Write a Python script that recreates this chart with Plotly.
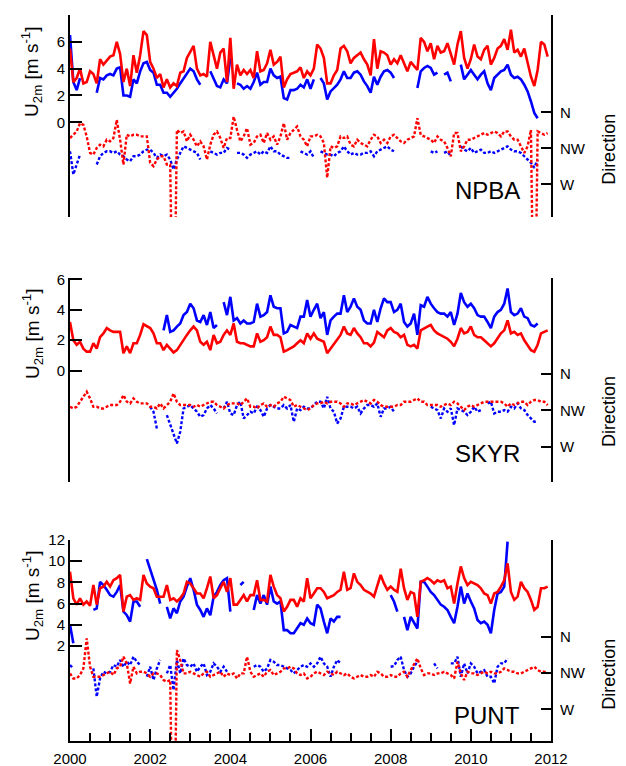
import plotly.graph_objects as go

N = None
# ---------------- data (monthly, Jan 2000 .. Dec 2011) ----------------
years = [2000 + m / 12 for m in range(144)]

npba_red_spd = [5.5,3.0,3.3,4.0,2.9,3.0,3.8,3.6,2.9,4.7, 4.3,4.6,4.9,5.0,6.0,5.1,3.0,4.0,2.7,5.0,
 3.7,5.0,6.8,6.5,4.5,4.0,3.3,3.6,2.6,3.2, 2.6,2.9,2.7,3.7,3.8,4.8,5.3,5.7,4.0,3.5,
 3.6,3.4,6.0,5.0,4.0,5.2,5.5,3.0,6.3,2.5, 4.3,3.5,3.9,3.6,3.9,3.3,5.3,3.8,3.9,4.4,
 5.4,4.3,4.5,4.9,2.6,3.2,3.6,3.7,3.8,4.1, 3.3,3.8,3.5,4.0,5.8,5.5,4.8,2.9,2.9,3.5,
 3.9,5.5,5.7,5.3,4.4,4.8,5.0,5.2,4.7,4.3, 3.5,6.2,4.0,5.3,5.2,5.0,4.3,4.7,4.4,5.0,
 4.4,3.8,4.5,4.2,3.9,6.3,6.0,5.3,5.9,4.7, 5.7,5.2,5.3,5.9,5.0,4.3,5.8,6.8,4.8,4.0,
 4.7,5.8,4.9,4.7,5.4,5.7,4.3,4.8,5.5,5.7, 6.2,5.4,6.9,5.2,5.4,4.9,5.5,4.4,3.4,2.7,
 3.9,6.0,5.8,4.9]
npba_blue_spd = [6.5,3.0,2.4,3.3,N,N,N,N,2.2,3.3, 3.2,3.5,3.6,3.5,4.0,4.1,2.0,2.0,1.9,3.2,
 2.9,3.8,4.4,4.5,3.9,3.7,2.8,2.8,2.2,2.2, 1.9,2.2,2.5,2.9,3.3,3.7,4.0,3.8,3.2,2.8,
 N,N,3.8,3.2,2.7,2.6,3.2,2.9,4.8,N, 2.9,2.8,2.5,2.7,2.5,3.0,3.7,2.8,3.0,3.0,
 4.0,3.5,3.3,3.4,1.8,1.7,2.4,2.4,2.5,2.8, 2.6,3.2,2.5,3.2,N,3.3,2.9,1.7,2.3,2.55,
 2.8,3.2,3.8,3.3,3.3,3.7,3.8,3.55,3.05,2.7, 2.2,3.4,2.8,3.4,3.8,3.9,3.7,3.3,N,N,
 N,N,N,N,2.55,3.8,4.05,4.2,4.05,3.55, 3.7,N,3.55,3.7,3.05,N,N,4.3,3.2,3.55,
 3.9,3.55,3.2,3.55,3.8,2.9,2.4,3.3,3.55,3.8, 3.9,4.3,3.55,3.3,3.4,3.2,2.8,2.3,1.55,0.7,
 0.3,N,N,N]
npba_red_dir = [327.8,331.9,336,346.4,344.3,329.8,309.2,307.1,315.4,319.5, 317.4,325.7,323.6,327.8,350.5,325.7,294.7,331.9,329.8,331.9,
 331.9,329.8,329.8,329.8,296.8,292.6,300.9,305,305,294.7, 294.7,20,338,334,336,323.6,331.9,325.7,317.4,323.6,
 317.4,300.9,319.5,331.9,336,327.8,315.4,327.8,327.8,354.6, 338,323.6,329.8,340.2,319.5,321.6,329.8,331.9,321.6,334,
 325.7,329.8,319.5,329.8,346.4,325.7,334,338,342.2,329.8, 325.7,317.4,329.8,329.8,331.9,329.8,321.6,278.2,317.4,315.4,
 317.4,329.8,327.8,329.8,319.5,317.4,325.7,321.6,319.5,317.4, 325.7,331.9,329.8,321.6,325.7,321.6,329.8,331.9,327.8,323.6,
 321.6,325.7,327.8,329.8,352.6,331.9,329.8,327.8,325.7,321.6, 329.8,325.7,323.6,315.4,305,334,334,311.2,317.4,325.7,
 325.7,327.8,329.8,331.9,334,331.9,334,336,334,329.8, 336,336,329.8,325.7,325.7,317.4,309.2,317.4,338,15,
 336,334,331.9,334]
npba_blue_dir = [311.2,282.3,294.7,307.1,N,N,N,N,294.7,305, 309.2,311.2,311.2,309.2,311.2,307.1,305,300.9,298.8,305,
 305,307.1,311.2,313.3,313.3,309.2,303,307.1,305,307.1, 300.9,288.5,300.9,309.2,317.4,315.4,313.3,311.2,309.2,300.9,
 N,N,311.2,309.2,307.1,309.2,309.2,315.4,313.3,N, 309.2,309.2,307.1,303,307.1,309.2,311.2,307.1,311.2,309.2,
 317.4,311.2,311.2,307.1,305,303,303,N,N,311.2, 309.2,307.1,311.2,303,N,311.2,309.2,307.1,307.1,305,
 309.2,311.2,317.4,311.2,307.1,309.2,307.1,307.1,309.2,309.2, 311.2,305,311.2,313.3,315.4,317.4,313.3,311.2,N,N,
 N,N,N,N,N,N,N,N,311.2,309.2, 311.2,N,309.2,311.2,305,N,N,317.4,313.3,311.2,
 315.4,309.2,311.2,313.3,309.2,309.2,311.2,309.2,311.2,313.3, 315.4,317.4,313.3,311.2,311.2,309.2,305,300.9,296.8,290.6,
 300.9,N,N,N]

skyr_red_spd = [3.2,2.0,1.7,1.9,1.45,1.25,1.25,1.8,1.45,2.2, 2.45,2.8,2.65,2.55,2.55,2.55,1.15,1.6,1.15,1.8,
 1.8,2.35,3.05,2.9,2.8,2.45,1.8,1.8,1.35,1.7, 1.45,1.2,1.35,1.7,2.0,2.35,2.65,2.9,2.65,1.9,
 1.7,1.9,1.35,2.35,1.8,1.9,2.35,2.65,2.35,3.1, 1.9,1.8,1.8,1.7,1.6,1.6,2.45,1.9,2.0,2.2,
 2.9,2.35,2.35,2.2,1.25,1.35,1.45,1.6,1.8,2.0, 1.8,2.45,2.1,2.45,2.1,2.0,1.9,1.15,1.45,1.7,
 2.0,2.35,2.9,2.45,2.35,2.8,2.45,2.2,1.8,1.8, 1.6,1.85,2.55,2.35,2.2,2.65,2.8,2.55,2.45,2.2,
 2.35,1.7,1.6,1.7,1.45,2.65,2.8,2.9,3.0,2.65, 2.45,2.35,2.2,2.1,1.9,1.6,2.1,2.8,2.45,2.55,
 2.9,2.35,2.2,2.2,2.0,1.8,1.6,1.8,2.1,2.45, 2.65,3.3,2.45,2.55,2.35,2.45,2.0,1.7,1.35,1.25,
 1.7,2.45,2.55,2.65]
skyr_blue_spd = [N]*28 + [2.65,3.65, 2.55,2.65,2.9,3.1,3.65,3.85,4.4,4.1,3.3,3.2,
 3.65,3.0,3.85,2.8,3.0,N,4.5,3.65,4.85,3.3, 3.45,3.1,3.3,3.1,3.1,3.2,4.4,3.55,3.65,3.85,
 4.95,4.2,4.1,4.1,2.45,2.55,3.0,2.9,2.8,3.55, 3.55,4.65,3.55,4.0,4.4,3.45,3.85,2.35,3.3,3.55,
 3.75,3.75,4.95,3.85,4.2,4.75,4.2,4.0,3.3,3.1, 3.1,4.0,3.2,4.1,4.75,4.5,4.5,3.85,4.0,4.4,
 3.2,2.9,3.1,3.75,2.35,4.3,4.2,4.85,4.4,4.1, 3.85,3.75,3.75,3.55,3.85,3.0,3.75,5.1,4.5,4.2,
 4.4,4.1,3.65,3.55,3.55,3.2,2.8,3.55,3.85,4.0, 4.4,5.4,3.85,3.65,3.75,4.1,3.55,3.45,3.0,2.9,
 3.1,N,N,N]
skyr_red_dir = [319.5,317.4,319.5,325.7,331.9,338.1,329.8,319.5,319.5,317.4, 317.4,319.5,321.6,321.6,321.6,325.7,334,325.7,323.6,329.8,
 325.7,323.6,323.6,323.6,319.5,319.5,317.4,323.6,317.4,321.6, 325.7,336,325.7,321.6,321.6,321.6,321.6,319.5,321.6,319.5,
 321.6,323.6,325.7,325.7,321.6,319.5,317.4,321.6,323.6,323.6, 323.6,321.6,325.7,329.8,319.5,319.5,317.4,321.6,323.6,319.5,
 321.6,319.5,323.6,325.7,331.9,329.8,327.8,319.5,321.6,319.5, 317.4,315.4,317.4,321.6,323.6,323.6,325.7,323.6,325.7,325.7,
 325.7,323.6,319.5,323.6,323.6,321.6,323.6,325.7,327.8,325.7, 323.6,327.8,325.7,321.6,319.5,319.5,319.5,319.5,321.6,321.6,
 325.7,325.7,325.7,327.8,329.8,325.7,325.7,321.6,321.6,321.6, 321.6,319.5,321.6,323.6,321.6,325.7,323.6,319.5,315.4,319.5,
 321.6,319.5,321.6,323.6,325.7,325.7,325.7,325.7,325.7,325.7, 323.6,319.5,323.6,321.6,323.6,325.7,325.7,321.6,325.7,327.8,
 327.8,325.7,325.7,321.6]
skyr_blue_dir = [N]*24 + [319.5,313.3,292.6,N,N,309.2, 296.8,284.4,274,288.5,317.4,319.5,321.6,317.4,313.3,307.1,
 309.2,317.4,321.6,317.4,311.2,N,317.4,325.7,311.2,309.2, 321.6,325.7,305,309.2,313.3,311.2,319.5,315.4,307.1,317.4,
 321.6,319.5,317.4,317.4,321.6,317.4,321.6,300.9,317.4,315.4, 319.5,317.4,317.4,321.6,325.7,325.7,317.4,331.9,317.4,313.3,
 298.8,305,319.5,319.5,319.5,317.4,319.5,311.2,317.4,321.6, 321.6,319.5,323.6,307.1,317.4,317.4,319.5,313.3,N,N,
 N,N,N,N,N,N,N,N,319.5,317.4, 315.4,305,317.4,313.3,317.4,296.8,317.4,315.4,313.3,309.2,
 313.3,319.5,313.3,315.4,N,323.6,325.7,311.2,313.3,313.3, 315.4,313.3,319.5,317.4,323.6,317.4,315.4,309.2,305,300.9,
 300.9,N,N,N]

punt_red_spd = [9.0,6.5,5.9,6.5,5.9,6.2,5.8,7.75,5.9,7.45, 7.6,8.05,7.6,8.2,8.4,8.7,5.25,6.65,6.8,6.35,
 6.5,6.35,8.7,7.9,7.6,7.45,6.65,6.65,6.65,7.75, 6.35,6.5,6.2,6.5,6.95,8.05,7.9,7.45,6.95,6.95,
 6.5,7.45,8.55,6.5,6.8,7.45,8.05,7.1,8.4,5.9, 5.9,6.35,6.8,6.2,6.8,6.8,8.2,6.35,6.35,6.2,
 8.7,7.6,6.8,6.5,5.25,5.7,6.35,6.35,5.7,6.5, 6.2,8.4,6.5,6.95,7.45,7.45,7.1,6.5,6.65,6.8,
 7.1,7.3,9.0,7.3,7.45,8.85,8.05,7.75,7.3,7.1, 6.95,6.65,7.75,8.7,7.9,7.3,7.6,7.3,7.1,9.3,
 7.45,6.35,7.1,6.95,4.75,8.05,8.2,8.4,8.2,7.9, 8.2,8.05,8.2,7.45,7.6,6.0,7.9,9.5,8.4,7.75,
 8.05,7.9,7.75,7.45,6.95,6.8,6.0,6.95,7.1,7.6, 8.2,9.8,7.1,6.35,6.65,8.05,7.45,7.1,6.35,5.4,
 5.7,7.45,7.45,7.6]
punt_blue_spd = [4.0,2.25,N,N,N,N,N,5.4,5.55,8.05, 7.75,7.3,6.8,6.65,7.1,7.75,5.25,4.9,4.3,6.2,
 6.2,5.7,N,10.2,9.2,8.3,7.3,6.0,N,5.7, 4.6,5.55,5.1,6.2,6.65,7.6,8.4,7.3,5.9,5.4,
 4.75,5.55,4.9,6.65,7.1,7.75,8.2,8.4,5.25,N, N,7.75,8.05,N,N,5.4,6.8,6.0,6.8,5.9,
 7.6,6.2,6.0,6.2,3.5,3.5,3.2,3.2,3.65,4.15, 4.0,4.6,4.15,4.0,5.9,5.55,4.3,3.2,4.6,4.3,
 4.75,4.75,N,N,N,N,N,N,N,N, N,N,N,N,N,N,6.8,6.2,5.25,N,
 4.75,3.5,4.75,4.15,3.65,8.05,8.05,7.6,7.1,6.8, 6.35,5.9,5.7,5.4,4.75,4.15,5.7,7.6,6.0,6.95,
 6.2,5.55,4.45,4.15,4.3,4.0,3.2,5.4,6.95,7.1, 7.6,11.85,N,N,N,N,N,N,N,N,
 N,N,N,N]
punt_red_dir = [314.5,308.3,308.3,312.5,320.7,357.9,322.8,310.4,310.4,310.4, 312.5,314.5,316.6,312.5,320.7,322.8,335.2,326.9,302.1,322.8,
 314.5,316.6,316.6,314.5,310.4,314.5,314.5,312.5,306.3,304.2, 306.3,20,343.5,331.1,314.5,314.5,316.6,314.5,312.5,310.4,
 314.5,316.6,310.4,312.5,314.5,316.6,310.4,314.5,312.5,314.5, 308.3,314.5,314.5,335.2,316.6,310.4,312.5,314.5,310.4,316.6,
 318.7,312.5,314.5,316.6,320.7,320.7,322.8,320.7,314.5,312.5, 314.5,308.3,310.4,314.5,316.6,314.5,312.5,316.6,314.5,312.5,
 316.6,314.5,312.5,314.5,310.4,308.3,310.4,312.5,310.4,310.4, 312.5,310.4,316.6,314.5,310.4,310.4,312.5,310.4,310.4,314.5,
 316.6,310.4,318.7,326.9,333.1,320.7,312.5,314.5,314.5,312.5, 314.5,314.5,316.6,314.5,312.5,308.3,329,314.5,306.3,316.6,
 314.5,314.5,312.5,314.5,316.6,314.5,316.6,314.5,314.5,316.6, 320.7,318.7,316.6,316.6,314.5,314.5,316.6,318.7,320.7,322.8,
 318.7,316.6,316.6,314.5]
punt_blue_dir = [324.9,320.7,N,N,N,N,N,320.7,285.6,308.3, 316.6,314.5,316.6,324.9,322.8,331.1,322.8,329,324.9,335.2,
 329,324.9,N,310.4,322.8,306.3,320.7,331.1,N,314.5, 324.9,293.9,331.1,314.5,333.1,324.9,322.8,326.9,316.6,322.8,
 326.9,312.5,316.6,326.9,322.8,316.6,322.8,316.6,N,N, N,N,N,N,N,322.8,324.9,322.8,316.6,320.7,
 331.1,329,324.9,324.9,322.8,320.7,318.7,314.5,318.7,322.8, 324.9,322.8,326.9,322.8,326.9,335.2,326.9,322.8,310.4,322.8,
 331.1,326.9,N,N,N,N,N,N,N,N, N,N,N,N,N,N,322.8,323.6,331.1,335.2,
 318.7,310.4,314.5,322.8,329,N,N,N,N,326.9, 320.7,N,N,N,326.9,326.9,335.2,310.4,326.9,314.5,
 326.9,322.8,314.5,316.6,318.7,310.4,310.4,302.1,322.8,326.9, 326.9,333.1,N,N,N,N,N,N,N,N,
 N,N,N,N]

stations = ["NPBA", "SKYR", "PUNT"]
dir_ticks = [270, 315, 360]
dir_labels = ["W", "NW", "N"]
year_ticks = [2000, 2002, 2004, 2006, 2008, 2010, 2012]

RED = "rgb(255,0,0)"
BLUE = "rgb(0,0,255)"
FONT = "Liberation Sans, Arial, Helvetica, sans-serif"

panels = [
    dict(name=stations[0], red=npba_red_spd, blue=npba_blue_spd, rdir=npba_red_dir, bdir=npba_blue_dir,
         dom=[0.7218, 1.0], yr=[-7.06, 8.0], ticks=[0, 2, 4, 6, 8], dr=[229.1, 481.6], title_y=0.9215),
    dict(name=stations[1], red=skyr_red_spd, blue=skyr_blue_spd, rdir=skyr_red_dir, bdir=skyr_blue_dir,
         dom=[0.3567, 0.6377], yr=[-7.31, 6.085], ticks=[0, 2, 4, 6], dr=[226.3, 478.8], title_y=0.5606),
    dict(name=stations[2], red=punt_red_spd, blue=punt_blue_spd, rdir=punt_red_dir, bdir=punt_blue_dir,
         dom=[0.0, 0.2769], yr=[-6.96, 12.0], ticks=[2, 4, 6, 8, 10, 12], dr=[230.8, 479.8], title_y=0.1997),
]

fig = go.Figure()
# page body has an 8px margin, so the figure is 8px smaller than the window
layout = dict(
    width=618, height=758,
    margin=dict(l=62, r=75, t=7, b=25, autoexpand=False),
    paper_bgcolor="white", plot_bgcolor="white",
    showlegend=False,
    font=dict(family=FONT, size=15, color="black"),
    annotations=[],
)

for i, p in enumerate(panels):
    xa = "x" if i == 0 else f"x{i+1}"
    yl = "y" if i == 0 else f"y{2*i+1}"
    yr_ = f"y{2*i+2}"
    solid = dict(width=2.6)
    dotted = dict(width=2.4, dash="3px,2px")
    fig.add_trace(go.Scatter(x=years, y=p["blue"], mode="lines", xaxis=xa, yaxis=yl,
                             line=dict(color=BLUE, **solid), hoverinfo="skip"))
    fig.add_trace(go.Scatter(x=years, y=p["red"], mode="lines", xaxis=xa, yaxis=yl,
                             line=dict(color=RED, **solid), hoverinfo="skip"))
    fig.add_trace(go.Scatter(x=years, y=p["bdir"], mode="lines", xaxis=xa, yaxis=yr_,
                             line=dict(color=BLUE, **dotted), hoverinfo="skip"))
    fig.add_trace(go.Scatter(x=years, y=p["rdir"], mode="lines", xaxis=xa, yaxis=yr_,
                             line=dict(color=RED, **dotted), hoverinfo="skip"))

    xkey = "xaxis" if i == 0 else f"xaxis{i+1}"
    ylkey = "yaxis" if i == 0 else f"yaxis{2*i+1}"
    yrkey = f"yaxis{2*i+2}"
    bottom = (i == 2)
    layout[xkey] = dict(
        domain=[0, 1], range=[2000, 2012], anchor=yl, visible=bottom, automargin=False,
        showgrid=False, zeroline=False,
        showline=bottom, linecolor="black", linewidth=2,
        ticks="inside", ticklen=12, tickwidth=1.5, tickcolor="black",
        tickvals=year_ticks, tickfont=dict(size=15), ticklabelstandoff=3,
        minor=dict(ticks="inside", ticklen=8, tickwidth=1.5, tickcolor="black",
                   tickvals=[2000 + 0.5 * k for k in range(25)]),
    )
    layout[ylkey] = dict(
        domain=p["dom"], range=p["yr"], anchor=xa, automargin=False,
        showgrid=False, zeroline=False,
        showline=True, linecolor="black", linewidth=2,
        ticks="inside", ticklen=12, tickwidth=1.5, tickcolor="black",
        tickvals=p["ticks"], tickfont=dict(size=15),
    )
    layout[yrkey] = dict(
        domain=p["dom"], range=p["dr"], anchor=xa, overlaying=yl, side="right", automargin=False,
        showgrid=False, zeroline=False,
        showline=True, linecolor="black", linewidth=2,
        ticks="inside", ticklen=10, tickwidth=1.5, tickcolor="black",
        tickvals=dir_ticks, ticktext=dir_labels, tickfont=dict(size=15),
        ticklabelstandoff=4,
    )
    layout["annotations"].append(dict(
        text="U<sub>2m</sub> [m s<sup>-1</sup>]", textangle=-90,
        xref="paper", yref="paper", x=-0.079, y=p["title_y"],
        xanchor="center", yanchor="middle", showarrow=False, font=dict(size=19)))
    layout["annotations"].append(dict(
        text="Direction", textangle=-90,
        xref="paper", yref=yr_, x=1.1206, y=313,
        xanchor="center", yanchor="middle", showarrow=False, font=dict(size=18)))
    layout["annotations"].append(dict(
        text=p["name"], xref="paper", yref=yr_, x=0.9397, y=262,
        xanchor="right", yanchor="middle", showarrow=False, font=dict(size=24)))

fig.update_layout(**layout)
fig.write_html("out.html")
